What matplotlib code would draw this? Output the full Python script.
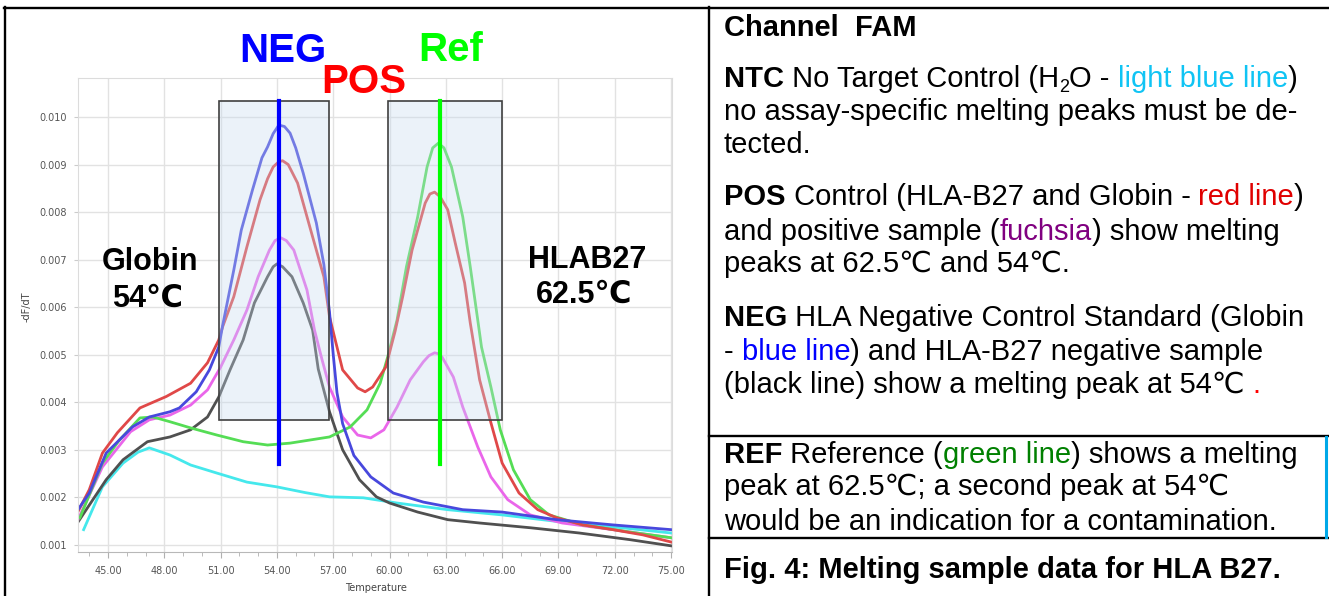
import numpy as np
import matplotlib
matplotlib.use("Agg")
import matplotlib.pyplot as plt
from matplotlib.patches import Rectangle
from matplotlib.lines import Line2D
from matplotlib.ticker import MultipleLocator, FormatStrFormatter
from matplotlib.font_manager import FontProperties


# melting curves (temperature, -dF/dT)
neg_ctrl_t = [43.4, 44.0, 44.9, 46.3, 47.2, 48.3, 48.8, 49.7, 50.4, 50.9, 51.1, 51.7, 52.1, 52.7, 53.2, 53.5, 53.8,
              54.1, 54.4, 54.7, 55.0, 55.4, 56.1, 56.5, 56.8, 57.0, 57.2, 57.5, 58.1, 59.0, 60.2, 61.8, 63.9, 66.0,
              68.9, 71.9, 75.0]
neg_ctrl_v = [0.00174, 0.00209, 0.00293, 0.00348, 0.00369, 0.00380, 0.00388, 0.00422, 0.00468, 0.00516, 0.00560,
              0.00678, 0.00762, 0.00847, 0.00914, 0.00937, 0.00965, 0.00983, 0.00980, 0.00966, 0.00935, 0.00882,
              0.00777, 0.00690, 0.00590, 0.00500, 0.00420, 0.00355, 0.00288, 0.00243, 0.00209, 0.00190, 0.00174,
              0.00169, 0.00153, 0.00142, 0.00132]

pos_ctrl_t = [43.4, 44.0, 44.7, 45.5, 46.7, 48.1, 49.4, 50.3, 50.9, 51.1, 51.7, 52.4, 53.1, 53.5, 53.8, 54.1, 54.3,
              54.6, 55.1, 55.8, 56.5, 56.8, 57.5, 58.3, 58.7, 59.1, 59.8, 60.3, 60.7, 61.2, 61.9, 62.15, 62.4, 62.7,
              63.1, 63.5, 64.0, 64.3, 64.8, 65.4, 66.0, 66.9, 67.9, 68.9, 70.3, 71.9, 73.5, 75.0]
pos_ctrl_v = [0.00170, 0.00216, 0.00293, 0.00336, 0.00388, 0.00412, 0.00440, 0.00483, 0.00531, 0.00558, 0.00622,
              0.00727, 0.00826, 0.00870, 0.00895, 0.00906, 0.00908, 0.00900, 0.00861, 0.00762, 0.00664, 0.00580,
              0.00468, 0.00430, 0.00422, 0.00432, 0.00474, 0.00550, 0.00622, 0.00720, 0.00819, 0.00838, 0.00842,
              0.00832, 0.00805, 0.00735, 0.00651, 0.00567, 0.00447, 0.00357, 0.00272, 0.00209, 0.00174, 0.00157,
              0.00142, 0.00132, 0.00121, 0.00106]

pos_sample_t = [43.4, 44.7, 46.2, 47.2, 48.3, 49.4, 50.3, 51.0, 51.7, 52.4, 53.0, 53.6, 53.9, 54.2, 54.5, 54.9, 55.6,
                56.0, 56.4, 56.8, 57.5, 58.3, 59.0, 59.7, 60.4, 61.1, 61.8, 62.1, 62.4, 62.6, 62.8, 63.4, 63.9, 64.7,
                65.4, 66.3, 67.5, 69.2, 71.9, 75.0]
pos_sample_v = [0.00153, 0.00264, 0.00338, 0.00363, 0.00373, 0.00394, 0.00426, 0.00474, 0.00531, 0.00594, 0.00664,
                0.00720, 0.00740, 0.00746, 0.00740, 0.00720, 0.00636, 0.00552, 0.00490, 0.00432, 0.00369, 0.00331,
                0.00325, 0.00342, 0.00390, 0.00447, 0.00485, 0.00498, 0.00504, 0.00502, 0.00495, 0.00453, 0.00390,
                0.00306, 0.00243, 0.00195, 0.00163, 0.00146, 0.00132, 0.00115]

neg_sample_t = [43.4, 44.9, 45.8, 47.1, 48.3, 49.4, 50.3, 50.9, 51.5, 52.2, 52.8, 53.5, 53.8, 54.0, 54.3, 54.8, 55.4,
                55.9, 56.2, 56.8, 57.5, 58.4, 59.3, 60.0, 61.5, 63.1, 64.8, 67.5, 70.1, 72.8, 75.0]
neg_sample_v = [0.00148, 0.00237, 0.00279, 0.00317, 0.00327, 0.00342, 0.00369, 0.00411, 0.00468, 0.00531, 0.00609,
                0.00664, 0.00685, 0.00691, 0.00685, 0.00664, 0.00609, 0.00552, 0.00470, 0.00380, 0.00300, 0.00237,
                0.00201, 0.00188, 0.00169, 0.00153, 0.00146, 0.00136, 0.00125, 0.00111, 0.00098]

ref_t = [43.5, 44.7, 45.6, 46.7, 47.4, 48.3, 49.4, 50.8, 52.2, 53.5, 54.7, 56.8, 57.9, 58.8, 59.5, 59.9, 60.4, 60.9,
         61.5, 62.0, 62.3, 62.6, 62.9, 63.3, 63.9, 64.3, 64.7, 64.9, 65.4, 65.9, 66.6, 67.5, 68.5, 70.3, 72.8, 75.0]
ref_v = [0.00157, 0.00272, 0.00320, 0.00367, 0.00369, 0.00359, 0.00346, 0.00331, 0.00317, 0.00310, 0.00314, 0.00327,
         0.00348, 0.00384, 0.00440, 0.00495, 0.00573, 0.00685, 0.00790, 0.00895, 0.00935, 0.00945, 0.00935, 0.00895,
         0.00790, 0.00685, 0.00573, 0.00516, 0.00432, 0.00342, 0.00258, 0.00195, 0.00163, 0.00142, 0.00127, 0.00115]

ntc_t = [43.7, 44.7, 45.8, 46.6, 47.2, 48.3, 49.4, 50.8, 52.4, 54.0, 55.5, 56.8, 58.6, 60.4, 63.1, 66.0, 69.2, 71.9, 75.0]
ntc_v = [0.00132, 0.00222, 0.00272, 0.00295, 0.00304, 0.00289, 0.00268, 0.00251, 0.00232, 0.00222, 0.00210, 0.00201,
         0.00199, 0.00188, 0.00174, 0.00163, 0.00148, 0.00138, 0.00125]

# peak windows and marker lines
globin_box = (50.9, 56.8)
hla_box = (59.9, 66.0)
box_y = (0.00362, 0.01034)
marker_x = [54.1, 62.7]
marker_y = (0.0027, 0.01034)

W, H = 1329, 596
FAM = ["Liberation Sans", "DejaVu Sans"]

def fx(px):
    return px / W

def fy(py):
    return 1 - py / H


fig = plt.figure(figsize=(W / 100, H / 100), dpi=100)
ax = fig.add_axes([fx(78), fy(552), (672 - 78) / W, (552 - 78) / H])

ax.plot(ntc_t, ntc_v, color="#45e8ec", lw=2.0, zorder=2)
ax.plot(neg_sample_t, neg_sample_v, color="#505050", lw=2.0, zorder=2)
ax.plot(pos_sample_t, pos_sample_v, color="#ea66ea", lw=2.0, zorder=2)
ax.plot(ref_t, ref_v, color="#55dd55", lw=2.0, zorder=2)
ax.plot(pos_ctrl_t, pos_ctrl_v, color="#e04848", lw=2.0, zorder=2)
ax.plot(neg_ctrl_t, neg_ctrl_v, color="#4848dd", lw=2.0, zorder=2)

for x0, x1 in [globin_box, hla_box]:
    ax.add_patch(Rectangle((x0, box_y[0]), x1 - x0, box_y[1] - box_y[0], facecolor="#c6dcf0", alpha=0.35,
                           edgecolor="none", zorder=3))
    ax.add_patch(Rectangle((x0, box_y[0]), x1 - x0, box_y[1] - box_y[0], facecolor="none",
                           edgecolor="#404040", lw=1.2, zorder=3))

ax.plot([marker_x[0]] * 2, marker_y, color="#0000ff", lw=3, zorder=4)
ax.plot([marker_x[1]] * 2, marker_y, color="#00ff00", lw=3, zorder=4)

ax.set_xlim(43.4, 75.05)
ax.set_ylim(0.00085, 0.01082)
ax.xaxis.set_major_locator(MultipleLocator(3))
ax.xaxis.set_minor_locator(MultipleLocator(1))
ax.yaxis.set_major_locator(MultipleLocator(0.001))
ax.xaxis.set_major_formatter(FormatStrFormatter("%.2f"))
ax.yaxis.set_major_formatter(FormatStrFormatter("%.3f"))
ax.grid(True, which="major", color="#e2e2e2", lw=1.0, zorder=0)
ax.set_axisbelow(True)
ax.tick_params(axis="x", which="major", length=4, color="#b0b0b0", labelsize=7, labelcolor="#555555", pad=6)
ax.tick_params(axis="x", which="minor", length=3, color="#b0b0b0")
ax.tick_params(axis="y", length=3, color="#cccccc", labelsize=7, labelcolor="#555555", pad=5)
for side in ["top", "right", "left"]:
    ax.spines[side].set_color("#dcdcdc")
ax.spines["bottom"].set_color("#b8b8b8")
ax.set_xlabel("Temperature", fontsize=7, color="#444444")
ax.set_ylabel("-dF/dT", fontsize=7, color="#444444")
ax.xaxis.set_label_coords((376 - 78) / 594, (552 - 583) / 474)
ax.yaxis.set_label_coords((32 - 78) / 594, (552 - 307) / 474)

# labels on the chart
big = dict(family=FAM, fontweight="bold", fontsize=29, ha="center", va="baseline")
fig.text(fx(283), fy(62), "NEG", color="#0000ff", **big)
fig.text(fx(364), fy(93), "POS", color="#ff0000", **big)
fig.text(fx(451), fy(61), "Ref", color="#00ff00", **big)

mid = dict(family=FAM, fontweight="bold", fontsize=22, ha="center", va="baseline", color="black")
fig.text(fx(150), fy(270), "Globin", **mid)
fig.text(fx(148), fy(307), "54\u2103", **mid)
fig.text(fx(587), fy(268), "HLAB27", **mid)
fig.text(fx(584), fy(303), "62.5\u2103", **mid)

# frame lines
frame = [((5, 5), (7, 596)), ((4, 1329), (7.5, 7.5)), ((709, 709), (7, 596)),
         ((709, 1329), (436, 436)), ((709, 1329), (538, 538))]
for xs, ys in frame:
    fig.add_artist(Line2D([fx(xs[0]), fx(xs[1])], [fy(ys[0]), fy(ys[1])], transform=fig.transFigure,
                          color="black", lw=1.7))
fig.add_artist(Line2D([fx(1326), fx(1326)], [fy(437), fy(537)], transform=fig.transFigure,
                      color="#00a8e8", lw=2.2))

# right hand text, drawn piece by piece so colours can change inside a line
renderer = fig.canvas.get_renderer()

def seg_width(s, size, weight):
    fp = FontProperties(family=FAM, size=size, weight=weight)
    w1 = renderer.get_text_width_height_descent("|" + s + "|", fp, ismath=False)[0]
    w0 = renderer.get_text_width_height_descent("||", fp, ismath=False)[0]
    return w1 - w0

def put_line(base_px, segs, x_px=724):
    x = x_px
    for seg in segs:
        s, color, weight = seg[:3]
        size = seg[3] if len(seg) > 3 else 21
        dy = seg[4] if len(seg) > 4 else 0
        fig.text(fx(x), fy(base_px + dy), s, color=color, fontsize=size, fontweight=weight,
                 family=FAM, ha="left", va="baseline")
        x += seg_width(s, size, weight)

K, B, N = "black", "bold", "normal"
lines = [
    (36, [("Channel  FAM", K, B)]),
    (87, [("NTC", K, B), (" No Target Control (H", K, N), ("2", K, N, 13, 5), ("O - ", K, N),
          ("light blue line", "#10c4f4", N), (")", K, N)]),
    (120, [("no assay-specific melting peaks must be de-", K, N)]),
    (153, [("tected.", K, N)]),
    (205, [("POS", K, B), (" Control (HLA-B27 and Globin - ", K, N), ("red line", "#e00000", N), (")", K, N)]),
    (240, [("and positive sample (", K, N), ("fuchsia", "#800080", N), (") show melting", K, N)]),
    (272, [("peaks at 62.5\u2103 and 54\u2103.", K, N)]),
    (326, [("NEG", K, B), (" HLA Negative Control Standard (Globin", K, N)]),
    (360, [("- ", K, N), ("blue line", "#0000ff", N), (") and HLA-B27 negative sample", K, N)]),
    (393, [("(black line) show a melting peak at 54\u2103 ", K, N), (".", "#ff0000", N)]),
    (463, [("REF", K, B), (" Reference (", K, N), ("green line", "#008000", N), (") shows a melting", K, N)]),
    (495, [("peak at 62.5\u2103; a second peak at 54\u2103", K, N)]),
    (530, [("would be an indication for a contamination.", K, N)]),
    (578, [("Fig. 4: Melting sample data for HLA B27.", K, B)]),
]
for base, segs in lines:
    put_line(base, segs)

fig.savefig("out.png", dpi=100)
